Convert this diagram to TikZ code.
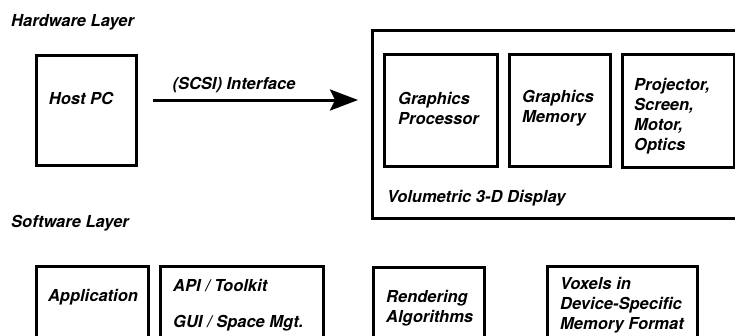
\documentclass[tikz,border=0pt]{standalone}
\usepackage{fontspec}
\setmainfont{TeX Gyre Heros}
\usetikzlibrary{arrows.meta}
\tikzset{
  lbl/.style={font=\fontsize{16.5}{20}\selectfont\bfseries\itshape, inner sep=0pt, align=left},
  boxnode/.style={draw, line width=3pt, inner sep=0pt, anchor=north west},
}
\begin{document}
\begin{tikzpicture}[x=1pt,y=-1pt]
\useasboundingbox (0,0) rectangle (735,335);
\clip (0,0) rectangle (735,335);
% Hardware layer
\node[lbl, anchor=west] (hwl) at (11,22) {Hardware Layer};
\node[boxnode, minimum width=100pt, minimum height=110pt] (host) at (35,54) {};
\node[lbl] (hosttxt) at (81,98) {Host PC};
\node[boxnode, minimum width=380pt, minimum height=188pt] (vol) at (371,29) {};
\node[boxnode, minimum width=113pt, minimum height=112pt] (gp) at (383,53) {};
\node[boxnode, minimum width=101pt, minimum height=112pt] (gm) at (508,53) {};
\node[boxnode, minimum width=112pt, minimum height=113pt] (proj) at (621,53) {};
\node[lbl, anchor=west] (gptxt) at (398,108) {Graphics\\Processor};
\node[lbl, anchor=west] (gmtxt) at (522,108) {Graphics\\Memory};
\node[lbl, anchor=west] (projtxt) at (634,116) {Projector,\\Screen,\\Motor,\\Optics};
\node[lbl, anchor=west] (voltxt) at (387,198) {Volumetric 3-D Display};
\coordinate (astart) at (153,100);
\coordinate (aend) at (358,100);
\draw[line width=3pt, -{Stealth[length=28pt,width=21pt,inset=5pt]}] (astart) -- (aend);
\node[lbl] (scsi) at (234,85) {(SCSI) Interface};
% Software layer
\node[lbl, anchor=west] (swl) at (11,223) {Software Layer};
\node[boxnode, minimum width=112pt, minimum height=100pt] (app) at (35,265) {};
\node[boxnode, minimum width=163pt, minimum height=100pt] (api) at (159,265) {};
\node[boxnode, minimum width=111pt, minimum height=100pt] (rend) at (372,266) {};
\node[boxnode, minimum width=150pt, minimum height=100pt] (vox) at (546,265) {};
\node[lbl] (apptxt) at (93,297) {Application};
\node[lbl, anchor=west] (apitxt) at (173,285) {API / Toolkit};
\node[lbl, anchor=west] (guitxt) at (173,323) {GUI / Space Mgt.};
\node[lbl, anchor=west] (rendtxt) at (386,308) {Rendering\\Algorithms};
\node[lbl, anchor=west] (voxtxt) at (560,305) {Voxels in\\Device-Specific\\Memory Format};
\end{tikzpicture}
\end{document}
